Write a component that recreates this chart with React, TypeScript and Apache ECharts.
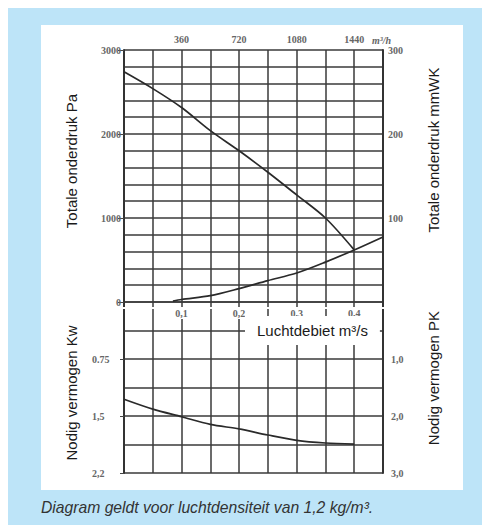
import React, { useEffect, useRef } from "react";
import * as echarts from "echarts";

// Air flow (m³/s) readings for the fan curve
const fanFlow = [0, 0.05, 0.1, 0.15, 0.2, 0.25, 0.3, 0.35, 0.4];
const fanPressure = [2740, 2540, 2315, 2040, 1800, 1545, 1275, 1000, 620];
// System resistance curve
const sysFlow = [0.085, 0.1, 0.15, 0.2, 0.25, 0.3, 0.35, 0.4, 0.45];
const sysPressure = [10, 30, 75, 160, 255, 345, 475, 620, 775];
// Required power (kW)
const powerFlow = [0, 0.05, 0.1, 0.15, 0.2, 0.25, 0.3, 0.35, 0.4];
const powerKw = [1.28, 1.41, 1.51, 1.61, 1.67, 1.75, 1.82, 1.855, 1.87];

// tick labels
const flowTickLabels: Record<number, string> = { 10: "0,1", 20: "0,2", 30: "0,3", 40: "0,4" };
const hourTickLabels: Record<number, string> = { 360: "360", 720: "720", 1080: "1080", 1440: "1440" };
const paTickLabels: Record<number, string> = { 0: "0", 1000: "1000", 2000: "2000", 3000: "3000" };
const mmTickLabels: Record<number, string> = { 100: "100", 200: "200", 300: "300" };
const kwTickLabels: Record<number, string> = { 75: "0.75", 150: "1,5", 225: "2,2" };
const pkTickLabels: Record<number, string> = { 1: "1,0", 2: "2,0", 3: "3,0" };

const GRID_LINE = { color: "#3a3a3a", width: 1.5 };
const TICK_FONT = { fontFamily: "Liberation Serif", fontSize: 10, color: "#666", fontWeight: "bold" as const };
const CURVE = { color: "#2a2a2a", width: 1.7 };

export default function App() {
  const ref = useRef<HTMLDivElement>(null);
  useEffect(() => {
    if (!ref.current) return;
    const chart = echarts.init(ref.current, null, { renderer: "svg" });
    const titleFont = { fontFamily: "Liberation Sans", fontSize: 15, fill: "#1a1a1a" };
    chart.setOption({
      animation: false,
      grid: [
        { left: 124, top: 50, width: 259, height: 252 },
        { left: 124, top: 302, width: 259, height: 171 },
      ],
      xAxis: [
        {
          gridIndex: 0, type: "value", position: "bottom", min: 0, max: 0.45, interval: 0.05,
          axisLine: { show: false }, axisTick: { show: false },
          axisLabel: {
            ...TICK_FONT, margin: 5, backgroundColor: "#fff", padding: [1, 2],
            formatter: (v: number) => flowTickLabels[Math.round(v * 100)] || "",
          },
          splitLine: { show: true, lineStyle: GRID_LINE },
        },
        {
          gridIndex: 0, type: "value", position: "top", min: 0, max: 1620, interval: 180,
          axisLine: { show: false }, axisTick: { show: false }, splitLine: { show: false },
          axisLabel: { ...TICK_FONT, margin: 6, formatter: (v: number) => hourTickLabels[Math.round(v)] || "" },
        },
        {
          gridIndex: 1, type: "value", min: 0, max: 0.45, interval: 0.05,
          axisLine: { show: false }, axisTick: { show: false }, axisLabel: { show: false },
          splitLine: { show: true, lineStyle: GRID_LINE },
        },
      ],
      yAxis: [
        {
          gridIndex: 0, type: "value", position: "left", min: 0, max: 3000, interval: 200,
          axisLine: { show: true, lineStyle: { color: "#333", width: 2 } }, axisTick: { show: false },
          axisLabel: { show: false }, splitLine: { show: true, lineStyle: GRID_LINE },
        },
        {
          gridIndex: 0, type: "value", position: "left", min: 0, max: 3000, interval: 1000,
          axisLine: { show: false }, axisTick: { show: true, length: 6, lineStyle: { color: "#444" } },
          splitLine: { show: false },
          axisLabel: { ...TICK_FONT, margin: 3, formatter: (v: number) => paTickLabels[Math.round(v)] ?? "" },
        },
        {
          gridIndex: 0, type: "value", position: "right", min: 0, max: 300, interval: 100,
          axisLine: { show: true, lineStyle: { color: "#333", width: 2 } }, axisTick: { show: false },
          splitLine: { show: false },
          axisLabel: { ...TICK_FONT, margin: 5, formatter: (v: number) => mmTickLabels[Math.round(v)] || "" },
        },
        {
          gridIndex: 1, type: "value", position: "left", min: 0, max: 2.25, interval: 0.375, inverse: true,
          axisLine: { show: true, lineStyle: { color: "#333", width: 2 } }, axisTick: { show: false },
          axisLabel: { show: false }, splitLine: { show: true, lineStyle: GRID_LINE },
        },
        {
          gridIndex: 1, type: "value", position: "left", min: 0, max: 2.25, interval: 0.75, inverse: true,
          axisLine: { show: false }, axisTick: { show: true, length: 4, lineStyle: { color: "#444" } },
          splitLine: { show: false },
          axisLabel: {
            ...TICK_FONT, margin: 32, align: "left",
            formatter: (v: number) => kwTickLabels[Math.round(v * 100)] || "",
          },
        },
        {
          gridIndex: 1, type: "value", position: "right", min: 0, max: 3, interval: 1, inverse: true,
          axisLine: { show: true, lineStyle: { color: "#333", width: 2 } }, axisTick: { show: false },
          splitLine: { show: false },
          axisLabel: { ...TICK_FONT, margin: 8, formatter: (v: number) => pkTickLabels[Math.round(v)] || "" },
        },
      ],
      series: [
        {
          type: "line", xAxisIndex: 0, yAxisIndex: 1, smooth: 0.3, showSymbol: false,
          lineStyle: CURVE, data: fanFlow.map((q, i) => [q, fanPressure[i]]),
        },
        {
          type: "line", xAxisIndex: 0, yAxisIndex: 1, smooth: 0.3, showSymbol: false,
          lineStyle: CURVE, data: sysFlow.map((q, i) => [q, sysPressure[i]]),
        },
        {
          type: "line", xAxisIndex: 2, yAxisIndex: 4, smooth: 0.3, showSymbol: false,
          lineStyle: CURVE, data: powerFlow.map((q, i) => [q, powerKw[i]]),
        },
      ],
      graphic: [
        {
          type: "text", x: 372, y: 40, z: 100,
          style: { text: "m³/h", fontFamily: "Liberation Serif", fontStyle: "italic", fontSize: 10, fill: "#666", fontWeight: "bold", textVerticalAlign: "middle" },
        },
        {
          type: "text", x: 71, y: 161, rotation: Math.PI / 2, z: 100,
          style: { text: "Totale onderdruk Pa", ...titleFont, textAlign: "center", textVerticalAlign: "middle" },
        },
        {
          type: "text", x: 71, y: 393, rotation: Math.PI / 2, z: 100,
          style: { text: "Nodig vermogen Kw", ...titleFont, textAlign: "center", textVerticalAlign: "middle" },
        },
        {
          type: "text", x: 433, y: 150, rotation: Math.PI / 2, z: 100,
          style: { text: "Totale onderdruk mmWK", ...titleFont, textAlign: "center", textVerticalAlign: "middle" },
        },
        {
          type: "text", x: 433, y: 378, rotation: Math.PI / 2, z: 100,
          style: { text: "Nodig vermogen PK", ...titleFont, textAlign: "center", textVerticalAlign: "middle" },
        },
        {
          type: "text", x: 245, y: 316, z: 100,
          style: { text: "Luchtdebiet m³/s", ...titleFont, backgroundColor: "#fff", padding: [7, 12, 7, 12] },
        },
        {
          type: "text", x: 41, y: 507, z: 100,
          style: { text: "Diagram geldt voor luchtdensiteit van 1,2 kg/m³.", fontFamily: "Liberation Sans", fontStyle: "italic", fontSize: 15.7, fill: "#333", textVerticalAlign: "middle" },
        },
      ],
    });
    return () => chart.dispose();
  }, []);

  return (
    <div style={{ position: "fixed", left: 0, top: 0, width: 482, height: 525, background: "#fff" }}>
      <div style={{ position: "absolute", left: 8, top: 8, width: 474, height: 517, background: "#bde4f8" }} />
      <div style={{ position: "absolute", left: 41, top: 25, width: 422, height: 465, background: "#fff" }} />
      <div ref={ref} style={{ position: "absolute", left: 0, top: 0, width: 482, height: 525 }} />
    </div>
  );
}
